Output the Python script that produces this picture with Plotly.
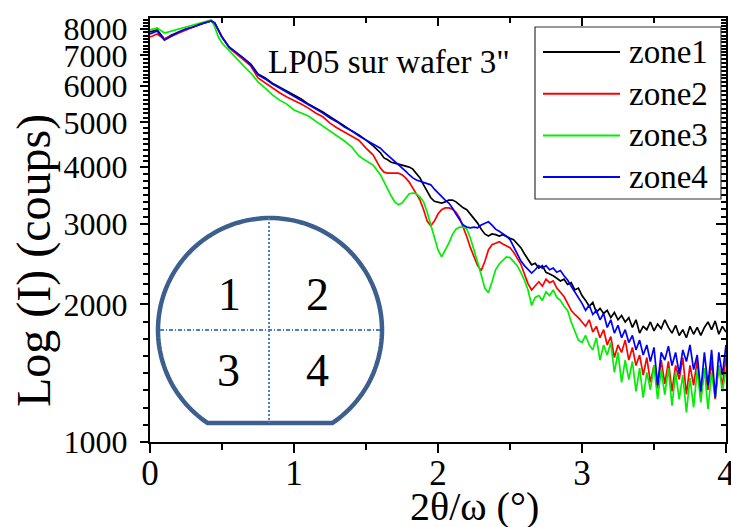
import math
import plotly.graph_objects as go

# ---- data: XRR scans of the four wafer zones (counts vs 2theta/omega, degrees)
x_deg = [0, 0.05, 0.1, 0.15, 0.2, 0.25, 0.3, 0.35, 0.4, 0.425, 0.45, 0.475, 0.5, 0.55, 0.6,
         0.65, 0.7, 0.75, 0.8, 0.85, 0.9, 0.95, 1.0, 1.05, 1.1, 1.15, 1.2, 1.25, 1.3, 1.35,
         1.4, 1.45, 1.5, 1.55, 1.6,
         1.625, 1.65, 1.675, 1.7, 1.725, 1.75, 1.775, 1.8, 1.825, 1.85,
         1.875, 1.9, 1.925, 1.95, 1.975, 2.0, 2.025, 2.05, 2.075, 2.1,
         2.125, 2.15, 2.175, 2.2, 2.225, 2.25, 2.275, 2.3, 2.325, 2.35,
         2.375, 2.4, 2.425, 2.45, 2.475, 2.5, 2.525, 2.55, 2.575, 2.6,
         2.625, 2.65, 2.675, 2.7, 2.725, 2.75, 2.775, 2.8, 2.825, 2.85,
         2.875, 2.9, 2.925, 2.95, 2.975, 3.0, 3.025, 3.05, 3.075, 3.1,
         3.125, 3.15, 3.175, 3.2, 3.225, 3.25, 3.275, 3.3, 3.325, 3.35,
         3.375, 3.4, 3.425, 3.45, 3.475, 3.5, 3.525, 3.55, 3.575, 3.6,
         3.625, 3.65, 3.675, 3.7, 3.725, 3.75, 3.775, 3.8, 3.825, 3.85,
         3.875, 3.9, 3.925, 3.95, 3.975, 4.0]

zone1 = [7880, 7960, 7600, 7760, 7880, 8000, 8080, 8200, 8290, 8330, 8240, 7960, 7680, 7300, 7090,
         6910, 6700, 6380, 6250, 6090, 5970, 5850, 5740, 5620, 5480, 5370, 5270, 5140, 5030, 4910,
         4790, 4690, 4570, 4440, 4290,
         4180, 4140, 4090, 4070, 4050, 4030, 4010, 3990, 3950, 3870,
         3780, 3650, 3520, 3420, 3360, 3350, 3330, 3350, 3380, 3380,
         3350, 3300, 3250, 3220, 3150, 3090, 3010, 2920, 2850, 2820,
         2850, 2840, 2820, 2840, 2810, 2790, 2770, 2720, 2660, 2580,
         2500, 2440, 2460, 2400, 2430, 2350, 2330, 2310, 2280, 2250,
         2270, 2210, 2230, 2150, 2170, 2090, 2040, 1980, 2020, 1920,
         1960, 1910, 1940, 1870, 1920, 1850, 1890, 1830, 1870, 1780,
         1850, 1730, 1790, 1760, 1830, 1750, 1810, 1770, 1850, 1780,
         1730, 1800, 1710, 1760, 1690, 1790, 1720, 1780, 1710, 1780,
         1830, 1760, 1840, 1720, 1790, 1740]

zone2 = [7680, 7800, 7600, 7720, 7840, 7960, 8080, 8200, 8290, 8330, 8240, 7960, 7680, 7270, 7050,
         6840, 6640, 6250, 6090, 5940, 5800, 5680, 5590, 5480, 5370, 5240, 5140, 4980, 4860, 4760,
         4670, 4570, 4390, 4240, 3970,
         3890, 3870, 3870, 3870, 3870, 3840, 3780, 3700, 3590, 3490,
         3380, 3220, 3040, 2970, 3040, 3150, 3220, 3250, 3250, 3230,
         3180, 3090, 2950, 2810, 2660, 2530, 2430, 2370, 2480, 2630,
         2700, 2720, 2740, 2710, 2680, 2660, 2600, 2530, 2450, 2330,
         2220, 2150, 2200, 2240, 2190, 2270, 2230, 2250, 2170, 2130,
         2080, 2010, 1940, 1900, 1870, 1830, 1790, 1850, 1740, 1790,
         1690, 1760, 1630, 1700, 1530, 1630, 1570, 1670, 1510, 1610,
         1470, 1550, 1400, 1530, 1350, 1470, 1310, 1510, 1340, 1500,
         1290, 1470, 1370, 1530, 1270, 1470, 1330, 1510, 1250, 1450,
         1300, 1500, 1240, 1470, 1330, 1530]

zone3 = [7960, 8040, 7840, 7920, 8000, 8080, 8160, 8240, 8330, 8370, 8080, 7680, 7450, 7160, 6910,
         6640, 6410, 6130, 5940, 5740, 5590, 5480, 5320, 5240, 5160, 5030, 4910, 4790, 4670, 4550,
         4420, 4220, 4120, 4030, 3840,
         3700, 3570, 3450, 3350, 3300, 3330, 3420, 3490, 3500, 3490,
         3430, 3350, 3180, 2980, 2790, 2630, 2540, 2630, 2720, 2840,
         2920, 2950, 2950, 2920, 2790, 2630, 2480, 2320, 2170, 2120,
         2240, 2380, 2450, 2500, 2540, 2530, 2480, 2430, 2350, 2260,
         2150, 1990, 2070, 2090, 2040, 2130, 2090, 2150, 2070, 2040,
         1980, 1940, 1830, 1740, 1670, 1650, 1710, 1630, 1590, 1690,
         1510, 1630, 1550, 1650, 1420, 1570, 1350, 1510, 1370, 1500,
         1290, 1450, 1250, 1420, 1300, 1470, 1240, 1440, 1270, 1450,
         1200, 1420, 1240, 1400, 1160, 1380, 1190, 1440, 1220, 1450,
         1180, 1420, 1250, 1470, 1290, 1440]

zone4 = [7800, 7920, 7560, 7720, 7880, 8000, 8080, 8200, 8290, 8330, 8240, 7960, 7680, 7300, 7090,
         6910, 6670, 6350, 6220, 6060, 5940, 5820, 5710, 5590, 5480, 5350, 5240, 5110, 5010, 4880,
         4790, 4670, 4570, 4480, 4390,
         4310, 4240, 4180, 4120, 4050, 3990, 3910, 3840, 3780, 3740,
         3720, 3700, 3680, 3650, 3570, 3500, 3430, 3380, 3330, 3250,
         3150, 3060, 2980, 2950, 2940, 2950, 2940, 2980, 3000, 3030,
         2980, 2920, 2890, 2860, 2820, 2770, 2680, 2580, 2490, 2430,
         2380, 2340, 2380, 2430, 2400, 2430, 2380, 2400, 2350, 2370,
         2310, 2260, 2190, 2130, 2070, 2010, 1940, 1990, 1900, 1940,
         1850, 1910, 1780, 1850, 1730, 1800, 1690, 1760, 1650, 1710,
         1590, 1670, 1550, 1630, 1500, 1610, 1330, 1570, 1510, 1620,
         1470, 1570, 1410, 1590, 1500, 1630, 1440, 1550, 1290, 1570,
         1330, 1590, 1250, 1570, 1400, 1630]

series_names = ["zone1", "zone2", "zone3", "zone4"]
series_values = [zone1, zone2, zone3, zone4]
series_colors = ["#000000", "#ff0000", "#00ee00", "#0000ff"]

y_major = [1000, 2000, 3000, 4000, 5000, 6000, 7000, 8000]
y_top = 8453
x_major = [0, 1, 2, 3, 4]
x_minor = [0.5, 1.5, 2.5, 3.5]

quadrant_labels = ["1", "2", "3", "4"]

# ---- page geometry (pixels)
W, H = 731, 527
ML, MR, MT, MB = 150, 5, 18, 85
PW, PH = W - ML - MR, H - MT - MB
SERIF = "Liberation Serif"


def fx(p):
    """pixel column -> paper x"""
    return (p - ML) / PW


def fy(p):
    """pixel row -> paper y"""
    return (H - MB - p) / PH


# minor ticks: seven per major step, evenly spaced on the log scale
y_minor = []
ext = y_major + [9000]
for a, b in zip(ext[:-1], ext[1:]):
    for k in range(1, 8):
        v = a * (b / a) ** (k / 8)
        if v < y_top:
            y_minor.append(v)

fig = go.Figure()
for name, vals, col in zip(series_names, series_values, series_colors):
    assert len(vals) == len(x_deg)
    fig.add_trace(go.Scatter(x=x_deg, y=vals, mode="lines", name=name,
                             line=dict(color=col, width=1.7), showlegend=False))

# empty trace so the mirrored top/right axes are drawn
fig.add_trace(go.Scatter(x=[None], y=[None], xaxis="x2", yaxis="y2",
                         showlegend=False, hoverinfo="skip"))

axis_common = dict(showgrid=False, zeroline=False, showline=True, automargin=False,
                   linecolor="black", linewidth=2, tickcolor="black", tickwidth=2)

fig.update_layout(
    width=W, height=H,
    margin=dict(l=ML, r=MR, t=MT, b=MB, pad=0, autoexpand=False),
    paper_bgcolor="white", plot_bgcolor="white",
    font=dict(family=SERIF, color="black"),
    xaxis=dict(range=[0, 4], tickmode="array", tickvals=x_major,
               ticktext=[str(v) for v in x_major], ticks="outside", ticklen=9,
               tickfont=dict(family=SERIF, size=35, color="black"),
               ticklabelstandoff=-10, ticklabeloverflow="allow",
               minor=dict(tickmode="array", tickvals=x_minor, ticks="outside",
                          ticklen=6, tickwidth=2, tickcolor="black"),
               **axis_common),
    yaxis=dict(type="log", range=[3, math.log10(y_top)], tickmode="array",
               tickvals=y_major, ticktext=[str(v) for v in y_major],
               ticks="outside", ticklen=8,
               tickfont=dict(family=SERIF, size=32, color="black"),
               ticklabelstandoff=6, ticklabeloverflow="allow",
               minor=dict(tickmode="array", tickvals=y_minor, ticks="outside",
                          ticklen=5, tickwidth=1.5, tickcolor="black"),
               **axis_common),
    xaxis2=dict(overlaying="x", side="top", range=[0, 4], tickmode="array",
                tickvals=x_major, ticks="inside", ticklen=8, showticklabels=False,
                minor=dict(tickmode="array", tickvals=x_minor, ticks="inside",
                           ticklen=5, tickwidth=2, tickcolor="black"),
                **axis_common),
    yaxis2=dict(overlaying="y", side="right", type="log",
                range=[3, math.log10(y_top)], tickmode="array", tickvals=y_major,
                ticks="inside", ticklen=10, showticklabels=False,
                minor=dict(tickmode="array", tickvals=y_minor, ticks="inside",
                           ticklen=5, tickwidth=1.5, tickcolor="black"),
                **axis_common),
)

shapes = []
annotations = []

# axis titles
annotations.append(dict(text="2θ/ω (°)", xref="paper", yref="paper",
                        x=fx(474), y=fy(506), xanchor="center", yanchor="middle",
                        showarrow=False, font=dict(family=SERIF, size=40, color="black")))
annotations.append(dict(text="Log (I) (coups)", xref="paper", yref="paper",
                        x=fx(34), y=fy(261), xanchor="center", yanchor="middle",
                        textangle=-90, showarrow=False,
                        font=dict(family=SERIF, size=48, color="black")))

# sample label
annotations.append(dict(text='LP05 sur wafer 3"', xref="paper", yref="paper",
                        x=fx(266), y=fy(62), xanchor="left", yanchor="middle",
                        showarrow=False, font=dict(family=SERIF, size=33, color="black")))

# legend box with long line samples
shapes.append(dict(type="rect", xref="paper", yref="paper",
                   x0=fx(535), x1=fx(721), y0=fy(199), y1=fy(27),
                   line=dict(color="#333333", width=1.2), fillcolor="white", layer="above"))
for i, (name, col) in enumerate(zip(series_names, series_colors)):
    row = 52 + i * 41.7
    shapes.append(dict(type="line", xref="paper", yref="paper",
                       x0=fx(543), x1=fx(620), y0=fy(row), y1=fy(row),
                       line=dict(color=col, width=2), layer="above"))
    annotations.append(dict(text=name, xref="paper", yref="paper",
                            x=fx(627), y=fy(row), xanchor="left", yanchor="middle",
                            showarrow=False,
                            font=dict(family=SERIF, size=33, color="black")))

# wafer sketch: circle with a flat at the bottom, split in four quadrants
cx, cy, r, flat = 270, 330, 112, 93
a0 = math.asin(flat / r)
pts = []
n = 140
for k in range(n + 1):
    a = -a0 + (math.pi + 2 * a0) * k / n
    pts.append((cx + r * math.cos(a), cy - r * math.sin(a)))
path = "M " + " L ".join(f"{fx(p):.5f},{fy(q):.5f}" for p, q in pts) + " Z"
shapes.append(dict(type="path", xref="paper", yref="paper", path=path,
                   line=dict(color="#3c5f8e", width=4.5), layer="above"))
shapes.append(dict(type="line", xref="paper", yref="paper",
                   x0=fx(cx - 1), x1=fx(cx - 1), y0=fy(cy - r), y1=fy(cy + flat),
                   line=dict(color="#4a7fc1", width=2, dash="2px,2px"), layer="above"))
shapes.append(dict(type="line", xref="paper", yref="paper",
                   x0=fx(cx - r + 2), x1=fx(cx + r - 2), y0=fy(cy), y1=fy(cy),
                   line=dict(color="#4a7fc1", width=2, dash="4px,2px,1px,2px"),
                   layer="above"))
label_pos = [(229, 294), (317, 294), (228, 370), (317, 370)]
for t, (lx, ly) in zip(quadrant_labels, label_pos):
    annotations.append(dict(text=t, xref="paper", yref="paper", x=fx(lx), y=fy(ly),
                            xanchor="center", yanchor="middle", showarrow=False,
                            font=dict(family=SERIF, size=46, color="black")))

fig.update_layout(shapes=shapes, annotations=annotations)
fig.write_html("out.html")
